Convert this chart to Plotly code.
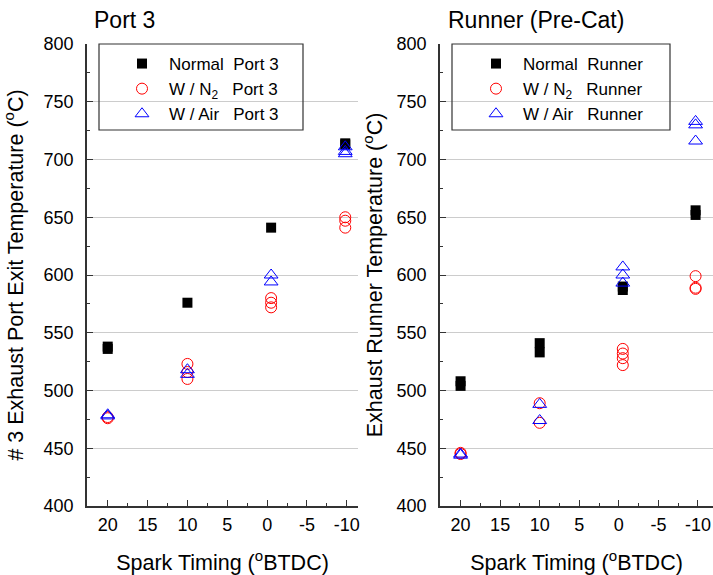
import plotly.graph_objects as go

# ---------------- data ----------------
port_normal_x = [20, 20, 10, -0.5, -9.8, -9.8]
port_normal_y = [536, 538, 576, 641, 714, 713]
port_n2_x = [20, 20, 10, 10, 10, -0.5, -0.5, -0.5, -9.8, -9.8, -9.8]
port_n2_y = [476, 477, 523, 516, 510, 580, 576, 572, 650, 647, 641]
port_air_x = [20, 20, 10, 10, -0.5, -0.5, -9.8, -9.8, -9.8]
port_air_y = [478, 479, 518, 514, 600, 594, 711, 707, 705]

run_normal_x = [20, 20, 10, 10, -0.5, -0.5, -9.7, -9.7]
run_normal_y = [508, 504, 541, 533, 590, 587, 656, 652]
run_n2_x = [20, 20, 10, 10, -0.5, -0.5, -0.5, -0.5, -9.7, -9.7, -9.7]
run_n2_y = [446, 445, 489, 472, 536, 532, 528, 522, 599, 589, 588]
run_air_x = [20, 20, 10, 10, -0.5, -0.5, -0.5, -9.7, -9.7, -9.7]
run_air_y = [445, 444, 488, 474, 607, 600, 593, 733, 730, 716]

x_tickvals = [20, 15, 10, 5, 0, -5, -10]
x_ticktext = ["20", "15", "10", "5", "0", "-5", "-10"]

port_names = ["Normal  Port 3", "W / N<sub>2</sub>   Port 3", "W / Air   Port 3"]
run_names = ["Normal  Runner", "W / N<sub>2</sub>   Runner", "W / Air   Runner"]

FONT = "Liberation Sans, Arial, sans-serif"
W, H = 713, 575
MT, MB = 44, 69
PH = H - MT - MB

def px_x(p):
    return p / W

def px_y(p):
    return 1 - (p - MT) / PH

sq = dict(symbol="square", size=10, color="black", line=dict(width=0))
ci = dict(symbol="circle-open", size=11, color="red", line=dict(width=1))
tr = dict(symbol="triangle-up-open", size=12, color="blue", line=dict(width=1))

fig = go.Figure()
for xs, ys, nm, mk, xa, ya, lg in [
    (port_normal_x, port_normal_y, port_names[0], sq, "x", "y", "legend"),
    (port_n2_x, port_n2_y, port_names[1], ci, "x", "y", "legend"),
    (port_air_x, port_air_y, port_names[2], tr, "x", "y", "legend"),
    (run_normal_x, run_normal_y, run_names[0], sq, "x2", "y2", "legend2"),
    (run_n2_x, run_n2_y, run_names[1], ci, "x2", "y2", "legend2"),
    (run_air_x, run_air_y, run_names[2], tr, "x2", "y2", "legend2"),
]:
    fig.add_trace(go.Scatter(x=xs, y=ys, mode="markers", name=nm, marker=mk,
                             xaxis=xa, yaxis=ya, legend=lg))

TFONT = dict(size=21.5, color="black", family=FONT)

xcommon = dict(autorange=False,
               tickmode="array", tickvals=x_tickvals, ticktext=x_ticktext,
               ticks="inside", ticklen=6, tickwidth=1, tickcolor="#333",
               showline=True, linecolor="#333", linewidth=1.5,
               showgrid=False, zeroline=False,
               minor=dict(ticks="inside", ticklen=3, tick0=0, dtick=2.5, tickcolor="#333", showgrid=False),
               tickfont=dict(size=18, color="black", family=FONT),
               ticklabelstandoff=2, ticklabeloverflow="allow",
               title=dict(text="Spark Timing (<sup>o</sup>BTDC)", font=TFONT, standoff=21),
               automargin=False)
ycommon = dict(range=[400, 800], autorange=False, tick0=400, dtick=50,
               ticks="inside", ticklen=6, tickwidth=1, tickcolor="#333",
               showline=True, linecolor="#333", linewidth=1.5,
               showgrid=True, gridcolor="#cccccc", gridwidth=1, zeroline=False,
               minor=dict(ticks="inside", ticklen=3, dtick=25, tickcolor="#333", showgrid=False),
               tickfont=dict(size=18, color="black", family=FONT),
               ticklabelstandoff=8, ticklabeloverflow="allow", automargin=False)

fig.update_layout(
    width=W, height=H,
    margin=dict(l=0, r=0, t=MT, b=MB),
    plot_bgcolor="white", paper_bgcolor="white",
    font=dict(family=FONT, color="black"),
    xaxis=dict(domain=[px_x(87), px_x(358)], anchor="y", range=[22.6, -11.4], **xcommon),
    yaxis=dict(domain=[0, 1], anchor="x",
               title=dict(text="# 3 Exhaust Port Exit Temperature (<sup>o</sup>C)",
                          font=TFONT, standoff=15),
               **ycommon),
    xaxis2=dict(domain=[px_x(440), 1.0], anchor="y2", range=[22.6, -11.9], **xcommon),
    yaxis2=dict(domain=[0, 1], anchor="x2",
                title=dict(text="Exhaust Runner Temperature (<sup>o</sup>C)",
                           font=TFONT, standoff=8),
                **ycommon),
    legend=dict(x=px_x(115), y=px_y(46), xanchor="left", yanchor="top",
                bgcolor="rgba(0,0,0,0)", borderwidth=0, itemwidth=44,
                font=dict(size=17, color="black", family=FONT), tracegroupgap=0),
    legend2=dict(x=px_x(469), y=px_y(46), xanchor="left", yanchor="top",
                 bgcolor="rgba(0,0,0,0)", borderwidth=0, itemwidth=44,
                 font=dict(size=17, color="black", family=FONT), tracegroupgap=0),
    showlegend=True,
    shapes=[
        dict(type="rect", xref="paper", yref="paper", x0=px_x(99), x1=px_x(303),
             y0=px_y(130), y1=px_y(44), line=dict(color="#333", width=1.2), fillcolor="rgba(0,0,0,0)"),
        dict(type="rect", xref="paper", yref="paper", x0=px_x(452), x1=px_x(670),
             y0=px_y(130), y1=px_y(44), line=dict(color="#333", width=1.2), fillcolor="rgba(0,0,0,0)"),
    ],
    annotations=[
        dict(text="Port 3", xref="paper", yref="paper", x=px_x(92), y=px_y(20),
             xanchor="left", yanchor="middle", showarrow=False,
             font=dict(size=23, color="black", family=FONT)),
        dict(text="Runner (Pre-Cat)", xref="paper", yref="paper", x=px_x(446), y=px_y(20),
             xanchor="left", yanchor="middle", showarrow=False,
             font=dict(size=23, color="black", family=FONT)),
    ],
)

fig.write_html("out.html")
